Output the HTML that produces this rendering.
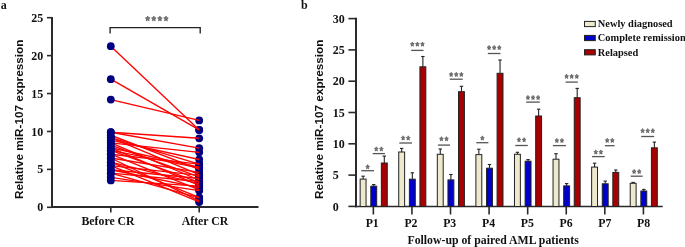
<!DOCTYPE html>
<html><head><meta charset="utf-8"><style>
html,body{margin:0;padding:0;background:#fff;width:685px;height:247px;overflow:hidden}
svg{display:block;will-change:transform}
text{font-family:"Liberation Serif",serif;font-weight:700;fill:#111}
.tk{font-size:12px}
.xl{font-size:11.8px}
.yl{font-family:"Liberation Sans",sans-serif;font-size:11.2px}
.pl{font-size:12px}
.lg{font-size:10.4px}
</style></head><body>
<svg width="685" height="247" viewBox="0 0 685 247">
<line x1="52" y1="16.9" x2="52" y2="207.9" stroke="#2a2a2a" stroke-width="2"/>
<line x1="51" y1="207" x2="258.5" y2="207" stroke="#2a2a2a" stroke-width="1.8"/>
<line x1="47" y1="207.30" x2="52" y2="207.30" stroke="#2a2a2a" stroke-width="1.6"/>
<text transform="translate(43.20,211.40) scale(1,1.07)" class="tk" text-anchor="end">0</text>
<line x1="47" y1="169.38" x2="52" y2="169.38" stroke="#2a2a2a" stroke-width="1.6"/>
<text transform="translate(43.20,173.48) scale(1,1.07)" class="tk" text-anchor="end">5</text>
<line x1="47" y1="131.46" x2="52" y2="131.46" stroke="#2a2a2a" stroke-width="1.6"/>
<text transform="translate(43.20,135.56) scale(1,1.07)" class="tk" text-anchor="end">10</text>
<line x1="47" y1="93.54" x2="52" y2="93.54" stroke="#2a2a2a" stroke-width="1.6"/>
<text transform="translate(43.20,97.64) scale(1,1.07)" class="tk" text-anchor="end">15</text>
<line x1="47" y1="55.62" x2="52" y2="55.62" stroke="#2a2a2a" stroke-width="1.6"/>
<text transform="translate(43.20,59.72) scale(1,1.07)" class="tk" text-anchor="end">20</text>
<line x1="47" y1="17.70" x2="52" y2="17.70" stroke="#2a2a2a" stroke-width="1.6"/>
<text transform="translate(43.20,21.80) scale(1,1.07)" class="tk" text-anchor="end">25</text>
<line x1="110.8" y1="207" x2="110.8" y2="212.6" stroke="#2a2a2a" stroke-width="1.6"/>
<line x1="199.2" y1="207" x2="199.2" y2="212.6" stroke="#2a2a2a" stroke-width="1.6"/>
<text transform="translate(81.50,224.50) scale(1,1.07)" class="xl">Before CR</text>
<text transform="translate(181.70,224.50) scale(1,1.07)" class="xl">After CR</text>
<text class="yl" transform="translate(23.4,119.3) rotate(-90)" text-anchor="middle" textLength="159.5" lengthAdjust="spacingAndGlyphs">Relative miR-107 expression</text>
<text x="0.8" y="8.9" class="pl">a</text>
<path d="M110.1 33.6 V27.6 H200.2 V33.6" fill="none" stroke="#222" stroke-width="1.35"/>
<circle cx="199.2" cy="129.94" r="3.9" fill="#000080"/>
<circle cx="199.2" cy="129.94" r="3.9" fill="#000080"/>
<circle cx="199.2" cy="120.46" r="3.9" fill="#000080"/>
<circle cx="199.2" cy="138.29" r="3.9" fill="#000080"/>
<circle cx="199.2" cy="148.14" r="3.9" fill="#000080"/>
<circle cx="199.2" cy="169.38" r="3.9" fill="#000080"/>
<circle cx="199.2" cy="174.69" r="3.9" fill="#000080"/>
<circle cx="199.2" cy="164.07" r="3.9" fill="#000080"/>
<circle cx="199.2" cy="159.52" r="3.9" fill="#000080"/>
<circle cx="199.2" cy="180.00" r="3.9" fill="#000080"/>
<circle cx="199.2" cy="152.32" r="3.9" fill="#000080"/>
<circle cx="199.2" cy="176.96" r="3.9" fill="#000080"/>
<circle cx="199.2" cy="185.31" r="3.9" fill="#000080"/>
<circle cx="199.2" cy="167.10" r="3.9" fill="#000080"/>
<circle cx="199.2" cy="182.27" r="3.9" fill="#000080"/>
<circle cx="199.2" cy="167.86" r="3.9" fill="#000080"/>
<circle cx="199.2" cy="189.86" r="3.9" fill="#000080"/>
<circle cx="199.2" cy="164.07" r="3.9" fill="#000080"/>
<circle cx="199.2" cy="172.41" r="3.9" fill="#000080"/>
<circle cx="199.2" cy="200.78" r="3.9" fill="#000080"/>
<circle cx="199.2" cy="183.79" r="3.9" fill="#000080"/>
<circle cx="199.2" cy="197.44" r="3.9" fill="#000080"/>
<circle cx="199.2" cy="175.45" r="3.9" fill="#000080"/>
<circle cx="199.2" cy="201.99" r="3.9" fill="#000080"/>
<circle cx="199.2" cy="178.48" r="3.9" fill="#000080"/>
<circle cx="199.2" cy="187.58" r="3.9" fill="#000080"/>
<circle cx="199.2" cy="197.82" r="3.9" fill="#000080"/>
<circle cx="199.2" cy="181.51" r="3.9" fill="#000080"/>
<circle cx="199.2" cy="190.62" r="3.9" fill="#000080"/>
<circle cx="199.2" cy="186.06" r="3.9" fill="#000080"/>
<line x1="110.8" y1="46.14" x2="199.2" y2="129.94" stroke="#ff0000" stroke-width="1.35"/>
<line x1="110.8" y1="79.13" x2="199.2" y2="129.94" stroke="#ff0000" stroke-width="1.35"/>
<line x1="110.8" y1="99.61" x2="199.2" y2="120.46" stroke="#ff0000" stroke-width="1.35"/>
<line x1="110.8" y1="132.22" x2="199.2" y2="138.29" stroke="#ff0000" stroke-width="1.35"/>
<line x1="110.8" y1="132.22" x2="199.2" y2="148.14" stroke="#ff0000" stroke-width="1.35"/>
<line x1="110.8" y1="135.25" x2="199.2" y2="169.38" stroke="#ff0000" stroke-width="1.35"/>
<line x1="110.8" y1="137.53" x2="199.2" y2="174.69" stroke="#ff0000" stroke-width="1.35"/>
<line x1="110.8" y1="137.53" x2="199.2" y2="164.07" stroke="#ff0000" stroke-width="1.35"/>
<line x1="110.8" y1="140.18" x2="199.2" y2="159.52" stroke="#ff0000" stroke-width="1.35"/>
<line x1="110.8" y1="142.84" x2="199.2" y2="180.00" stroke="#ff0000" stroke-width="1.35"/>
<line x1="110.8" y1="142.84" x2="199.2" y2="152.32" stroke="#ff0000" stroke-width="1.35"/>
<line x1="110.8" y1="145.11" x2="199.2" y2="176.96" stroke="#ff0000" stroke-width="1.35"/>
<line x1="110.8" y1="147.77" x2="199.2" y2="185.31" stroke="#ff0000" stroke-width="1.35"/>
<line x1="110.8" y1="147.77" x2="199.2" y2="167.10" stroke="#ff0000" stroke-width="1.35"/>
<line x1="110.8" y1="150.42" x2="199.2" y2="182.27" stroke="#ff0000" stroke-width="1.35"/>
<line x1="110.8" y1="150.42" x2="199.2" y2="167.86" stroke="#ff0000" stroke-width="1.35"/>
<line x1="110.8" y1="154.21" x2="199.2" y2="189.86" stroke="#ff0000" stroke-width="1.35"/>
<line x1="110.8" y1="154.21" x2="199.2" y2="164.07" stroke="#ff0000" stroke-width="1.35"/>
<line x1="110.8" y1="158.00" x2="199.2" y2="172.41" stroke="#ff0000" stroke-width="1.35"/>
<line x1="110.8" y1="158.00" x2="199.2" y2="200.78" stroke="#ff0000" stroke-width="1.35"/>
<line x1="110.8" y1="162.18" x2="199.2" y2="183.79" stroke="#ff0000" stroke-width="1.35"/>
<line x1="110.8" y1="162.18" x2="199.2" y2="197.44" stroke="#ff0000" stroke-width="1.35"/>
<line x1="110.8" y1="165.59" x2="199.2" y2="175.45" stroke="#ff0000" stroke-width="1.35"/>
<line x1="110.8" y1="165.59" x2="199.2" y2="201.99" stroke="#ff0000" stroke-width="1.35"/>
<line x1="110.8" y1="169.76" x2="199.2" y2="178.48" stroke="#ff0000" stroke-width="1.35"/>
<line x1="110.8" y1="169.76" x2="199.2" y2="187.58" stroke="#ff0000" stroke-width="1.35"/>
<line x1="110.8" y1="173.17" x2="199.2" y2="197.82" stroke="#ff0000" stroke-width="1.35"/>
<line x1="110.8" y1="173.17" x2="199.2" y2="181.51" stroke="#ff0000" stroke-width="1.35"/>
<line x1="110.8" y1="177.34" x2="199.2" y2="190.62" stroke="#ff0000" stroke-width="1.35"/>
<line x1="110.8" y1="180.38" x2="199.2" y2="186.06" stroke="#ff0000" stroke-width="1.35"/>
<circle cx="110.8" cy="46.14" r="3.9" fill="#000080"/>
<circle cx="110.8" cy="79.13" r="3.9" fill="#000080"/>
<circle cx="110.8" cy="99.61" r="3.9" fill="#000080"/>
<circle cx="110.8" cy="132.22" r="3.9" fill="#000080"/>
<circle cx="110.8" cy="132.22" r="3.9" fill="#000080"/>
<circle cx="110.8" cy="135.25" r="3.9" fill="#000080"/>
<circle cx="110.8" cy="137.53" r="3.9" fill="#000080"/>
<circle cx="110.8" cy="137.53" r="3.9" fill="#000080"/>
<circle cx="110.8" cy="140.18" r="3.9" fill="#000080"/>
<circle cx="110.8" cy="142.84" r="3.9" fill="#000080"/>
<circle cx="110.8" cy="142.84" r="3.9" fill="#000080"/>
<circle cx="110.8" cy="145.11" r="3.9" fill="#000080"/>
<circle cx="110.8" cy="147.77" r="3.9" fill="#000080"/>
<circle cx="110.8" cy="147.77" r="3.9" fill="#000080"/>
<circle cx="110.8" cy="150.42" r="3.9" fill="#000080"/>
<circle cx="110.8" cy="150.42" r="3.9" fill="#000080"/>
<circle cx="110.8" cy="154.21" r="3.9" fill="#000080"/>
<circle cx="110.8" cy="154.21" r="3.9" fill="#000080"/>
<circle cx="110.8" cy="158.00" r="3.9" fill="#000080"/>
<circle cx="110.8" cy="158.00" r="3.9" fill="#000080"/>
<circle cx="110.8" cy="162.18" r="3.9" fill="#000080"/>
<circle cx="110.8" cy="162.18" r="3.9" fill="#000080"/>
<circle cx="110.8" cy="165.59" r="3.9" fill="#000080"/>
<circle cx="110.8" cy="165.59" r="3.9" fill="#000080"/>
<circle cx="110.8" cy="169.76" r="3.9" fill="#000080"/>
<circle cx="110.8" cy="169.76" r="3.9" fill="#000080"/>
<circle cx="110.8" cy="173.17" r="3.9" fill="#000080"/>
<circle cx="110.8" cy="173.17" r="3.9" fill="#000080"/>
<circle cx="110.8" cy="177.34" r="3.9" fill="#000080"/>
<circle cx="110.8" cy="180.38" r="3.9" fill="#000080"/>
<polygon points="147.70,15.95 148.41,17.59 150.00,17.85 148.85,19.12 149.12,20.92 147.70,20.07 146.28,20.92 146.55,19.12 145.40,17.85 146.99,17.59" fill="#7a7a7a" stroke="#444" stroke-width="0.55" stroke-linejoin="round"/><polygon points="153.80,15.95 154.51,17.59 156.10,17.85 154.95,19.12 155.22,20.92 153.80,20.07 152.38,20.92 152.65,19.12 151.50,17.85 153.09,17.59" fill="#7a7a7a" stroke="#444" stroke-width="0.55" stroke-linejoin="round"/><polygon points="159.90,15.95 160.61,17.59 162.20,17.85 161.05,19.12 161.32,20.92 159.90,20.07 158.48,20.92 158.75,19.12 157.60,17.85 159.19,17.59" fill="#7a7a7a" stroke="#444" stroke-width="0.55" stroke-linejoin="round"/><polygon points="166.00,15.95 166.71,17.59 168.30,17.85 167.15,19.12 167.42,20.92 166.00,20.07 164.58,20.92 164.85,19.12 163.70,17.85 165.29,17.59" fill="#7a7a7a" stroke="#444" stroke-width="0.55" stroke-linejoin="round"/>
<line x1="356" y1="17.8" x2="356" y2="207.3" stroke="#2a2a2a" stroke-width="2"/>
<line x1="355" y1="206.5" x2="662.7" y2="206.5" stroke="#2a2a2a" stroke-width="1.6"/>
<line x1="348.4" y1="206.40" x2="356" y2="206.40" stroke="#2a2a2a" stroke-width="1.6"/>
<text transform="translate(332.80,210.50) scale(1,1.07)" class="tk">0</text>
<line x1="348.4" y1="175.10" x2="356" y2="175.10" stroke="#2a2a2a" stroke-width="1.6"/>
<text transform="translate(332.80,179.20) scale(1,1.07)" class="tk">5</text>
<line x1="348.4" y1="143.80" x2="356" y2="143.80" stroke="#2a2a2a" stroke-width="1.6"/>
<text transform="translate(332.80,147.90) scale(1,1.07)" class="tk">10</text>
<line x1="348.4" y1="112.50" x2="356" y2="112.50" stroke="#2a2a2a" stroke-width="1.6"/>
<text transform="translate(332.80,116.60) scale(1,1.07)" class="tk">15</text>
<line x1="348.4" y1="81.20" x2="356" y2="81.20" stroke="#2a2a2a" stroke-width="1.6"/>
<text transform="translate(332.80,85.30) scale(1,1.07)" class="tk">20</text>
<line x1="348.4" y1="49.90" x2="356" y2="49.90" stroke="#2a2a2a" stroke-width="1.6"/>
<text transform="translate(332.80,54.00) scale(1,1.07)" class="tk">25</text>
<line x1="348.4" y1="18.60" x2="356" y2="18.60" stroke="#2a2a2a" stroke-width="1.6"/>
<text transform="translate(332.80,22.70) scale(1,1.07)" class="tk">30</text>
<text class="yl" transform="translate(322.9,119.3) rotate(-90)" text-anchor="middle" textLength="159.5" lengthAdjust="spacingAndGlyphs">Relative miR-107 expression</text>
<text x="300.9" y="8.8" class="pl">b</text>
<line x1="363.10" y1="176.20" x2="363.10" y2="179.10" stroke="#222" stroke-width="1.1"/>
<line x1="361.40" y1="176.20" x2="364.80" y2="176.20" stroke="#222" stroke-width="1.1"/>
<rect x="360.15" y="179.10" width="5.90" height="27.40" fill="#eee8cd" stroke="#222" stroke-width="1"/>
<line x1="373.75" y1="184.60" x2="373.75" y2="186.20" stroke="#222" stroke-width="1.1"/>
<line x1="372.05" y1="184.60" x2="375.45" y2="184.60" stroke="#222" stroke-width="1.1"/>
<rect x="370.80" y="186.20" width="5.90" height="20.30" fill="#0000cc" stroke="#222" stroke-width="1"/>
<line x1="384.30" y1="156.10" x2="384.30" y2="163.00" stroke="#222" stroke-width="1.1"/>
<line x1="382.60" y1="156.10" x2="386.00" y2="156.10" stroke="#222" stroke-width="1.1"/>
<rect x="381.35" y="163.00" width="5.90" height="43.50" fill="#a80000" stroke="#222" stroke-width="1"/>
<line x1="373.35" y1="206.5" x2="373.35" y2="214.5" stroke="#2a2a2a" stroke-width="1.6"/>
<text transform="translate(372.20,226.80) scale(1,1.07)" class="xl" text-anchor="middle">P1</text>
<line x1="401.68" y1="148.40" x2="401.68" y2="152.00" stroke="#222" stroke-width="1.1"/>
<line x1="399.98" y1="148.40" x2="403.38" y2="148.40" stroke="#222" stroke-width="1.1"/>
<rect x="398.73" y="152.00" width="5.90" height="54.50" fill="#eee8cd" stroke="#222" stroke-width="1"/>
<line x1="412.33" y1="172.80" x2="412.33" y2="179.20" stroke="#222" stroke-width="1.1"/>
<line x1="410.63" y1="172.80" x2="414.03" y2="172.80" stroke="#222" stroke-width="1.1"/>
<rect x="409.38" y="179.20" width="5.90" height="27.30" fill="#0000cc" stroke="#222" stroke-width="1"/>
<line x1="422.88" y1="56.50" x2="422.88" y2="66.80" stroke="#222" stroke-width="1.1"/>
<line x1="421.18" y1="56.50" x2="424.58" y2="56.50" stroke="#222" stroke-width="1.1"/>
<rect x="419.93" y="66.80" width="5.90" height="139.70" fill="#a80000" stroke="#222" stroke-width="1"/>
<line x1="411.93" y1="206.5" x2="411.93" y2="214.5" stroke="#2a2a2a" stroke-width="1.6"/>
<text transform="translate(410.96,226.80) scale(1,1.07)" class="xl" text-anchor="middle">P2</text>
<line x1="440.26" y1="149.00" x2="440.26" y2="154.30" stroke="#222" stroke-width="1.1"/>
<line x1="438.56" y1="149.00" x2="441.96" y2="149.00" stroke="#222" stroke-width="1.1"/>
<rect x="437.31" y="154.30" width="5.90" height="52.20" fill="#eee8cd" stroke="#222" stroke-width="1"/>
<line x1="450.91" y1="174.50" x2="450.91" y2="179.90" stroke="#222" stroke-width="1.1"/>
<line x1="449.21" y1="174.50" x2="452.61" y2="174.50" stroke="#222" stroke-width="1.1"/>
<rect x="447.96" y="179.90" width="5.90" height="26.60" fill="#0000cc" stroke="#222" stroke-width="1"/>
<line x1="461.46" y1="86.30" x2="461.46" y2="91.70" stroke="#222" stroke-width="1.1"/>
<line x1="459.76" y1="86.30" x2="463.16" y2="86.30" stroke="#222" stroke-width="1.1"/>
<rect x="458.51" y="91.70" width="5.90" height="114.80" fill="#a80000" stroke="#222" stroke-width="1"/>
<line x1="450.51" y1="206.5" x2="450.51" y2="214.5" stroke="#2a2a2a" stroke-width="1.6"/>
<text transform="translate(449.72,226.80) scale(1,1.07)" class="xl" text-anchor="middle">P3</text>
<line x1="478.84" y1="149.20" x2="478.84" y2="154.60" stroke="#222" stroke-width="1.1"/>
<line x1="477.14" y1="149.20" x2="480.54" y2="149.20" stroke="#222" stroke-width="1.1"/>
<rect x="475.89" y="154.60" width="5.90" height="51.90" fill="#eee8cd" stroke="#222" stroke-width="1"/>
<line x1="489.49" y1="164.50" x2="489.49" y2="168.20" stroke="#222" stroke-width="1.1"/>
<line x1="487.79" y1="164.50" x2="491.19" y2="164.50" stroke="#222" stroke-width="1.1"/>
<rect x="486.54" y="168.20" width="5.90" height="38.30" fill="#0000cc" stroke="#222" stroke-width="1"/>
<line x1="500.04" y1="60.00" x2="500.04" y2="73.30" stroke="#222" stroke-width="1.1"/>
<line x1="498.34" y1="60.00" x2="501.74" y2="60.00" stroke="#222" stroke-width="1.1"/>
<rect x="497.09" y="73.30" width="5.90" height="133.20" fill="#a80000" stroke="#222" stroke-width="1"/>
<line x1="489.09" y1="206.5" x2="489.09" y2="214.5" stroke="#2a2a2a" stroke-width="1.6"/>
<text transform="translate(488.48,226.80) scale(1,1.07)" class="xl" text-anchor="middle">P4</text>
<line x1="517.42" y1="152.30" x2="517.42" y2="154.30" stroke="#222" stroke-width="1.1"/>
<line x1="515.72" y1="152.30" x2="519.12" y2="152.30" stroke="#222" stroke-width="1.1"/>
<rect x="514.47" y="154.30" width="5.90" height="52.20" fill="#eee8cd" stroke="#222" stroke-width="1"/>
<line x1="528.07" y1="159.60" x2="528.07" y2="161.20" stroke="#222" stroke-width="1.1"/>
<line x1="526.37" y1="159.60" x2="529.77" y2="159.60" stroke="#222" stroke-width="1.1"/>
<rect x="525.12" y="161.20" width="5.90" height="45.30" fill="#0000cc" stroke="#222" stroke-width="1"/>
<line x1="538.62" y1="109.20" x2="538.62" y2="116.00" stroke="#222" stroke-width="1.1"/>
<line x1="536.92" y1="109.20" x2="540.32" y2="109.20" stroke="#222" stroke-width="1.1"/>
<rect x="535.67" y="116.00" width="5.90" height="90.50" fill="#a80000" stroke="#222" stroke-width="1"/>
<line x1="527.67" y1="206.5" x2="527.67" y2="214.5" stroke="#2a2a2a" stroke-width="1.6"/>
<text transform="translate(527.24,226.80) scale(1,1.07)" class="xl" text-anchor="middle">P5</text>
<line x1="556.00" y1="153.70" x2="556.00" y2="159.20" stroke="#222" stroke-width="1.1"/>
<line x1="554.30" y1="153.70" x2="557.70" y2="153.70" stroke="#222" stroke-width="1.1"/>
<rect x="553.05" y="159.20" width="5.90" height="47.30" fill="#eee8cd" stroke="#222" stroke-width="1"/>
<line x1="566.65" y1="183.60" x2="566.65" y2="185.90" stroke="#222" stroke-width="1.1"/>
<line x1="564.95" y1="183.60" x2="568.35" y2="183.60" stroke="#222" stroke-width="1.1"/>
<rect x="563.70" y="185.90" width="5.90" height="20.60" fill="#0000cc" stroke="#222" stroke-width="1"/>
<line x1="577.20" y1="88.40" x2="577.20" y2="97.70" stroke="#222" stroke-width="1.1"/>
<line x1="575.50" y1="88.40" x2="578.90" y2="88.40" stroke="#222" stroke-width="1.1"/>
<rect x="574.25" y="97.70" width="5.90" height="108.80" fill="#a80000" stroke="#222" stroke-width="1"/>
<line x1="566.25" y1="206.5" x2="566.25" y2="214.5" stroke="#2a2a2a" stroke-width="1.6"/>
<text transform="translate(566.00,226.80) scale(1,1.07)" class="xl" text-anchor="middle">P6</text>
<line x1="594.58" y1="163.20" x2="594.58" y2="167.10" stroke="#222" stroke-width="1.1"/>
<line x1="592.88" y1="163.20" x2="596.28" y2="163.20" stroke="#222" stroke-width="1.1"/>
<rect x="591.63" y="167.10" width="5.90" height="39.40" fill="#eee8cd" stroke="#222" stroke-width="1"/>
<line x1="605.23" y1="181.10" x2="605.23" y2="183.80" stroke="#222" stroke-width="1.1"/>
<line x1="603.53" y1="181.10" x2="606.93" y2="181.10" stroke="#222" stroke-width="1.1"/>
<rect x="602.28" y="183.80" width="5.90" height="22.70" fill="#0000cc" stroke="#222" stroke-width="1"/>
<line x1="615.78" y1="170.00" x2="615.78" y2="172.40" stroke="#222" stroke-width="1.1"/>
<line x1="614.08" y1="170.00" x2="617.48" y2="170.00" stroke="#222" stroke-width="1.1"/>
<rect x="612.83" y="172.40" width="5.90" height="34.10" fill="#a80000" stroke="#222" stroke-width="1"/>
<line x1="604.83" y1="206.5" x2="604.83" y2="214.5" stroke="#2a2a2a" stroke-width="1.6"/>
<text transform="translate(604.76,226.80) scale(1,1.07)" class="xl" text-anchor="middle">P7</text>
<line x1="633.16" y1="182.40" x2="633.16" y2="183.30" stroke="#222" stroke-width="1.1"/>
<line x1="631.46" y1="182.40" x2="634.86" y2="182.40" stroke="#222" stroke-width="1.1"/>
<rect x="630.21" y="183.30" width="5.90" height="23.20" fill="#eee8cd" stroke="#222" stroke-width="1"/>
<line x1="643.81" y1="189.40" x2="643.81" y2="191.00" stroke="#222" stroke-width="1.1"/>
<line x1="642.11" y1="189.40" x2="645.51" y2="189.40" stroke="#222" stroke-width="1.1"/>
<rect x="640.86" y="191.00" width="5.90" height="15.50" fill="#0000cc" stroke="#222" stroke-width="1"/>
<line x1="654.36" y1="142.10" x2="654.36" y2="147.80" stroke="#222" stroke-width="1.1"/>
<line x1="652.66" y1="142.10" x2="656.06" y2="142.10" stroke="#222" stroke-width="1.1"/>
<rect x="651.41" y="147.80" width="5.90" height="58.70" fill="#a80000" stroke="#222" stroke-width="1"/>
<line x1="643.41" y1="206.5" x2="643.41" y2="214.5" stroke="#2a2a2a" stroke-width="1.6"/>
<text transform="translate(643.52,226.80) scale(1,1.07)" class="xl" text-anchor="middle">P8</text>
<line x1="361.3" y1="170.7" x2="374.0" y2="170.7" stroke="#555" stroke-width="1.3"/>
<polygon points="367.65,164.62 368.24,166.02 369.55,166.24 368.60,167.33 368.82,168.87 367.65,168.15 366.48,168.87 366.70,167.33 365.75,166.24 367.06,166.02" fill="#7a7a7a" stroke="#444" stroke-width="0.55" stroke-linejoin="round"/>
<line x1="372.7" y1="153.6" x2="384.9" y2="153.6" stroke="#555" stroke-width="1.3"/>
<polygon points="376.25,146.77 376.84,148.17 378.15,148.39 377.20,149.48 377.42,151.02 376.25,150.30 375.08,151.02 375.30,149.48 374.35,148.39 375.66,148.17" fill="#7a7a7a" stroke="#444" stroke-width="0.55" stroke-linejoin="round"/><polygon points="381.35,146.77 381.94,148.17 383.25,148.39 382.30,149.48 382.52,151.02 381.35,150.30 380.18,151.02 380.40,149.48 379.45,148.39 380.76,148.17" fill="#7a7a7a" stroke="#444" stroke-width="0.55" stroke-linejoin="round"/>
<line x1="399.3" y1="143.0" x2="412.0" y2="143.0" stroke="#555" stroke-width="1.3"/>
<polygon points="403.10,135.77 403.69,137.17 405.00,137.39 404.05,138.48 404.27,140.02 403.10,139.30 401.93,140.02 402.15,138.48 401.20,137.39 402.51,137.17" fill="#7a7a7a" stroke="#444" stroke-width="0.55" stroke-linejoin="round"/><polygon points="408.20,135.77 408.79,137.17 410.10,137.39 409.15,138.48 409.37,140.02 408.20,139.30 407.03,140.02 407.25,138.48 406.30,137.39 407.61,137.17" fill="#7a7a7a" stroke="#444" stroke-width="0.55" stroke-linejoin="round"/>
<line x1="411.2" y1="50.4" x2="423.5" y2="50.4" stroke="#555" stroke-width="1.3"/>
<polygon points="412.25,41.97 412.84,43.37 414.15,43.59 413.20,44.68 413.42,46.22 412.25,45.49 411.08,46.22 411.30,44.68 410.35,43.59 411.66,43.37" fill="#7a7a7a" stroke="#444" stroke-width="0.55" stroke-linejoin="round"/><polygon points="417.35,41.97 417.94,43.37 419.25,43.59 418.30,44.68 418.52,46.22 417.35,45.49 416.18,46.22 416.40,44.68 415.45,43.59 416.76,43.37" fill="#7a7a7a" stroke="#444" stroke-width="0.55" stroke-linejoin="round"/><polygon points="422.45,41.97 423.04,43.37 424.35,43.59 423.40,44.68 423.62,46.22 422.45,45.49 421.28,46.22 421.50,44.68 420.55,43.59 421.86,43.37" fill="#7a7a7a" stroke="#444" stroke-width="0.55" stroke-linejoin="round"/>
<line x1="437.9" y1="145.1" x2="450.0" y2="145.1" stroke="#555" stroke-width="1.3"/>
<polygon points="441.40,136.62 441.99,138.02 443.30,138.24 442.35,139.33 442.57,140.87 441.40,140.15 440.23,140.87 440.45,139.33 439.50,138.24 440.81,138.02" fill="#7a7a7a" stroke="#444" stroke-width="0.55" stroke-linejoin="round"/><polygon points="446.50,136.62 447.09,138.02 448.40,138.24 447.45,139.33 447.67,140.87 446.50,140.15 445.33,140.87 445.55,139.33 444.60,138.24 445.91,138.02" fill="#7a7a7a" stroke="#444" stroke-width="0.55" stroke-linejoin="round"/>
<line x1="449.8" y1="79.2" x2="462.7" y2="79.2" stroke="#555" stroke-width="1.3"/>
<polygon points="451.15,72.22 451.74,73.62 453.05,73.84 452.10,74.93 452.32,76.47 451.15,75.74 449.98,76.47 450.20,74.93 449.25,73.84 450.56,73.62" fill="#7a7a7a" stroke="#444" stroke-width="0.55" stroke-linejoin="round"/><polygon points="456.25,72.22 456.84,73.62 458.15,73.84 457.20,74.93 457.42,76.47 456.25,75.74 455.08,76.47 455.30,74.93 454.35,73.84 455.66,73.62" fill="#7a7a7a" stroke="#444" stroke-width="0.55" stroke-linejoin="round"/><polygon points="461.35,72.22 461.94,73.62 463.25,73.84 462.30,74.93 462.52,76.47 461.35,75.74 460.18,76.47 460.40,74.93 459.45,73.84 460.76,73.62" fill="#7a7a7a" stroke="#444" stroke-width="0.55" stroke-linejoin="round"/>
<line x1="476.3" y1="142.7" x2="488.4" y2="142.7" stroke="#555" stroke-width="1.3"/>
<polygon points="482.35,135.87 482.94,137.27 484.25,137.49 483.30,138.58 483.52,140.12 482.35,139.40 481.18,140.12 481.40,138.58 480.45,137.49 481.76,137.27" fill="#7a7a7a" stroke="#444" stroke-width="0.55" stroke-linejoin="round"/>
<line x1="487.8" y1="53.5" x2="500.5" y2="53.5" stroke="#555" stroke-width="1.3"/>
<polygon points="489.05,45.37 489.64,46.77 490.95,46.99 490.00,48.08 490.22,49.62 489.05,48.89 487.88,49.62 488.10,48.08 487.15,46.99 488.46,46.77" fill="#7a7a7a" stroke="#444" stroke-width="0.55" stroke-linejoin="round"/><polygon points="494.15,45.37 494.74,46.77 496.05,46.99 495.10,48.08 495.32,49.62 494.15,48.89 492.98,49.62 493.20,48.08 492.25,46.99 493.56,46.77" fill="#7a7a7a" stroke="#444" stroke-width="0.55" stroke-linejoin="round"/><polygon points="499.25,45.37 499.84,46.77 501.15,46.99 500.20,48.08 500.42,49.62 499.25,48.89 498.08,49.62 498.30,48.08 497.35,46.99 498.66,46.77" fill="#7a7a7a" stroke="#444" stroke-width="0.55" stroke-linejoin="round"/>
<line x1="515.3" y1="145.5" x2="527.8" y2="145.5" stroke="#555" stroke-width="1.3"/>
<polygon points="519.00,137.57 519.59,138.97 520.90,139.19 519.95,140.28 520.17,141.82 519.00,141.09 517.83,141.82 518.05,140.28 517.10,139.19 518.41,138.97" fill="#7a7a7a" stroke="#444" stroke-width="0.55" stroke-linejoin="round"/><polygon points="524.10,137.57 524.69,138.97 526.00,139.19 525.05,140.28 525.27,141.82 524.10,141.09 522.93,141.82 523.15,140.28 522.20,139.19 523.51,138.97" fill="#7a7a7a" stroke="#444" stroke-width="0.55" stroke-linejoin="round"/>
<line x1="526.2" y1="102.1" x2="539.8" y2="102.1" stroke="#555" stroke-width="1.3"/>
<polygon points="527.90,95.32 528.49,96.72 529.80,96.94 528.85,98.03 529.07,99.57 527.90,98.84 526.73,99.57 526.95,98.03 526.00,96.94 527.31,96.72" fill="#7a7a7a" stroke="#444" stroke-width="0.55" stroke-linejoin="round"/><polygon points="533.00,95.32 533.59,96.72 534.90,96.94 533.95,98.03 534.17,99.57 533.00,98.84 531.83,99.57 532.05,98.03 531.10,96.94 532.41,96.72" fill="#7a7a7a" stroke="#444" stroke-width="0.55" stroke-linejoin="round"/><polygon points="538.10,95.32 538.69,96.72 540.00,96.94 539.05,98.03 539.27,99.57 538.10,98.84 536.93,99.57 537.15,98.03 536.20,96.94 537.51,96.72" fill="#7a7a7a" stroke="#444" stroke-width="0.55" stroke-linejoin="round"/>
<line x1="552.9" y1="145.6" x2="565.9" y2="145.6" stroke="#555" stroke-width="1.3"/>
<polygon points="556.85,138.27 557.44,139.67 558.75,139.89 557.80,140.98 558.02,142.52 556.85,141.80 555.68,142.52 555.90,140.98 554.95,139.89 556.26,139.67" fill="#7a7a7a" stroke="#444" stroke-width="0.55" stroke-linejoin="round"/><polygon points="561.95,138.27 562.54,139.67 563.85,139.89 562.90,140.98 563.12,142.52 561.95,141.80 560.78,142.52 561.00,140.98 560.05,139.89 561.36,139.67" fill="#7a7a7a" stroke="#444" stroke-width="0.55" stroke-linejoin="round"/>
<line x1="565.6" y1="82.1" x2="577.8" y2="82.1" stroke="#555" stroke-width="1.3"/>
<polygon points="566.60,74.17 567.19,75.57 568.50,75.79 567.55,76.88 567.77,78.42 566.60,77.69 565.43,78.42 565.65,76.88 564.70,75.79 566.01,75.57" fill="#7a7a7a" stroke="#444" stroke-width="0.55" stroke-linejoin="round"/><polygon points="571.70,74.17 572.29,75.57 573.60,75.79 572.65,76.88 572.87,78.42 571.70,77.69 570.53,78.42 570.75,76.88 569.80,75.79 571.11,75.57" fill="#7a7a7a" stroke="#444" stroke-width="0.55" stroke-linejoin="round"/><polygon points="576.80,74.17 577.39,75.57 578.70,75.79 577.75,76.88 577.97,78.42 576.80,77.69 575.63,78.42 575.85,76.88 574.90,75.79 576.21,75.57" fill="#7a7a7a" stroke="#444" stroke-width="0.55" stroke-linejoin="round"/>
<line x1="592.0" y1="156.6" x2="604.7" y2="156.6" stroke="#555" stroke-width="1.3"/>
<polygon points="595.80,149.87 596.39,151.27 597.70,151.49 596.75,152.58 596.97,154.12 595.80,153.40 594.63,154.12 594.85,152.58 593.90,151.49 595.21,151.27" fill="#7a7a7a" stroke="#444" stroke-width="0.55" stroke-linejoin="round"/><polygon points="600.90,149.87 601.49,151.27 602.80,151.49 601.85,152.58 602.07,154.12 600.90,153.40 599.73,154.12 599.95,152.58 599.00,151.49 600.31,151.27" fill="#7a7a7a" stroke="#444" stroke-width="0.55" stroke-linejoin="round"/>
<line x1="604.9" y1="145.7" x2="614.6" y2="145.7" stroke="#555" stroke-width="1.3"/>
<polygon points="607.20,138.17 607.79,139.57 609.10,139.79 608.15,140.88 608.37,142.42 607.20,141.70 606.03,142.42 606.25,140.88 605.30,139.79 606.61,139.57" fill="#7a7a7a" stroke="#444" stroke-width="0.55" stroke-linejoin="round"/><polygon points="612.30,138.17 612.89,139.57 614.20,139.79 613.25,140.88 613.47,142.42 612.30,141.70 611.13,142.42 611.35,140.88 610.40,139.79 611.71,139.57" fill="#7a7a7a" stroke="#444" stroke-width="0.55" stroke-linejoin="round"/>
<line x1="630.7" y1="176.2" x2="642.6" y2="176.2" stroke="#555" stroke-width="1.3"/>
<polygon points="634.10,169.32 634.69,170.72 636.00,170.94 635.05,172.03 635.27,173.57 634.10,172.84 632.93,173.57 633.15,172.03 632.20,170.94 633.51,170.72" fill="#7a7a7a" stroke="#444" stroke-width="0.55" stroke-linejoin="round"/><polygon points="639.20,169.32 639.79,170.72 641.10,170.94 640.15,172.03 640.37,173.57 639.20,172.84 638.03,173.57 638.25,172.03 637.30,170.94 638.61,170.72" fill="#7a7a7a" stroke="#444" stroke-width="0.55" stroke-linejoin="round"/>
<line x1="641.2" y1="136.5" x2="654.2" y2="136.5" stroke="#555" stroke-width="1.3"/>
<polygon points="642.60,128.52 643.19,129.92 644.50,130.14 643.55,131.23 643.77,132.77 642.60,132.05 641.43,132.77 641.65,131.23 640.70,130.14 642.01,129.92" fill="#7a7a7a" stroke="#444" stroke-width="0.55" stroke-linejoin="round"/><polygon points="647.70,128.52 648.29,129.92 649.60,130.14 648.65,131.23 648.87,132.77 647.70,132.05 646.53,132.77 646.75,131.23 645.80,130.14 647.11,129.92" fill="#7a7a7a" stroke="#444" stroke-width="0.55" stroke-linejoin="round"/><polygon points="652.80,128.52 653.39,129.92 654.70,130.14 653.75,131.23 653.97,132.77 652.80,132.05 651.63,132.77 651.85,131.23 650.90,130.14 652.21,129.92" fill="#7a7a7a" stroke="#444" stroke-width="0.55" stroke-linejoin="round"/>
<text transform="translate(493.10,243.60) scale(1,1.07)" class="xl" text-anchor="middle">Follow-up of paired AML patients</text>
<rect x="584.5" y="21.4" width="10.8" height="5.2" fill="#eee8cd" stroke="#222" stroke-width="1"/>
<text transform="translate(597.80,27.40) scale(1,1.07)" class="lg">Newly diagnosed</text>
<rect x="584.5" y="35.4" width="10.8" height="5.2" fill="#0000cc" stroke="#222" stroke-width="1"/>
<text transform="translate(597.80,41.40) scale(1,1.07)" class="lg">Complete remission</text>
<rect x="584.5" y="49.7" width="10.8" height="5.2" fill="#a80000" stroke="#222" stroke-width="1"/>
<text transform="translate(597.80,55.70) scale(1,1.07)" class="lg">Relapsed</text>
</svg>
</body></html>
